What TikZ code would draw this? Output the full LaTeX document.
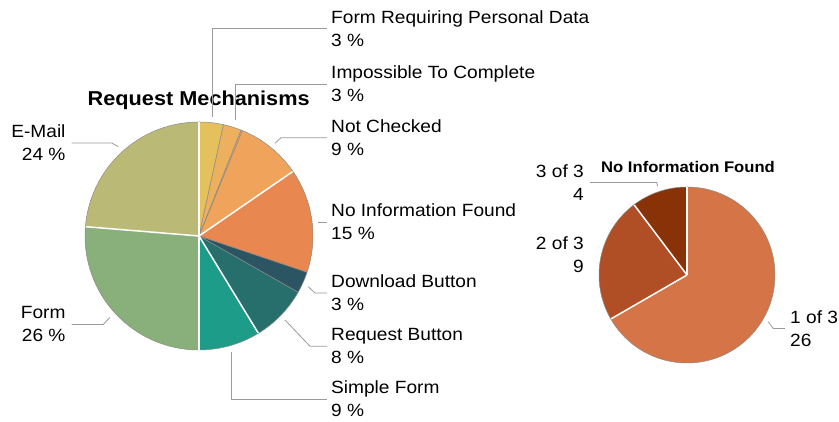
\documentclass[tikz,border=0pt]{standalone}
\usepackage{fontspec}
\setmainfont{Liberation Sans}[FakeStretch=1.08]
\definecolor{cFRPD}{HTML}{E5C15E}
\definecolor{cITC}{HTML}{EDB05E}
\definecolor{cNC}{HTML}{F0A35B}
\definecolor{cNIF}{HTML}{E8874F}
\definecolor{cDB}{HTML}{2C5563}
\definecolor{cRB}{HTML}{266F6C}
\definecolor{cSF}{HTML}{1C9C89}
\definecolor{cFO}{HTML}{89AF7B}
\definecolor{cEM}{HTML}{BBB976}
\definecolor{cR1}{HTML}{D57447}
\definecolor{cR2}{HTML}{B04F26}
\definecolor{cR3}{HTML}{893107}
\definecolor{rim}{HTML}{8C8C84}
\definecolor{leader}{HTML}{9A9A9A}
\tikzset{
  lbl/.style={inner ysep=0pt, inner xsep=4pt, align=left, font=\fontsize{17.7}{23}\selectfont},
  lblr/.style={inner ysep=0pt, inner xsep=6pt, align=right, font=\fontsize{17.7}{23}\selectfont},
  leadline/.style={draw=leader, line width=0.8pt},
  sep/.style={draw=white, line width=1.5pt},
  slice/.style={draw=rim, line width=0.5pt, line join=round}
}
\newcommand{\pieslice}[5]{% center, radius, t1, t2, color
  \filldraw[slice, fill=#5] (#1) -- ++({90-#3}:#2) arc[start angle={90-#3}, end angle={90-#4}, radius=#2] -- cycle;}
\begin{document}
\begin{tikzpicture}[x=1pt,y=1pt]
\useasboundingbox (0,0) rectangle (839,422);
% ---------- left pie ----------
\coordinate (cL) at (199,186);
\pieslice{cL}{114}{0}{12.4}{cFRPD}
\pieslice{cL}{114}{12.4}{21.7}{cITC}
\pieslice{cL}{114}{21.7}{55.5}{cNC}
\pieslice{cL}{114}{55.5}{108.6}{cNIF}
\pieslice{cL}{114}{108.6}{119.6}{cDB}
\pieslice{cL}{114}{119.6}{148.6}{cRB}
\pieslice{cL}{114}{148.6}{180}{cSF}
\pieslice{cL}{114}{180}{274.7}{cFO}
\pieslice{cL}{114}{274.7}{360}{cEM}
\draw[draw=rim, line width=0.5pt] (cL) -- ++({90-22.4}:114);
\foreach \t in {0,55.5,148.6,180,274.7}{\draw[sep] (cL) -- ++({90-\t}:113.6);}
% ---------- right pie ----------
\coordinate (cR) at (687,147);
\pieslice{cR}{88}{0}{240}{cR1}
\pieslice{cR}{88}{240}{323}{cR2}
\pieslice{cR}{88}{323}{360}{cR3}
\foreach \t in {0,240,323}{\draw[sep] (cR) -- ++({90-\t}:87.6);}
% ---------- titles ----------
\node[anchor=base west, inner sep=0pt, font=\fontsize{20.1}{24}\selectfont\bfseries] (tL) at (87.5,316) {Request Mechanisms};
\node[anchor=base west, inner sep=0pt, font=\fontsize{15.4}{18}\selectfont\bfseries] (tR) at (601,249.3) {No Information Found};
% ---------- labels left pie ----------
\node[lbl, anchor=west] (lFRPD) at (327,393.5) {Form Requiring Personal Data\\3 \%};
\node[lbl, anchor=west] (lITC) at (327,338) {Impossible To Complete\\3 \%};
\node[lbl, anchor=west] (lNC) at (327,284.2) {Not Checked\\9 \%};
\node[lbl, anchor=west] (lNIF) at (327,200) {No Information Found\\15 \%};
\node[lbl, anchor=west] (lDB) at (327,129) {Download Button\\3 \%};
\node[lbl, anchor=west] (lRB) at (327,75.7) {Request Button\\8 \%};
\node[lbl, anchor=west] (lSF) at (327,23) {Simple Form\\9 \%};
\node[lblr, anchor=east] (lEM) at (71.7,279) {E-Mail\\24 \%};
\node[lblr, anchor=east] (lFO) at (71.7,97.5) {Form\\26 \%};
% ---------- labels right pie ----------
\node[lblr, anchor=east] (r3) at (590,239.5) {3 of 3\\4};
\node[lblr, anchor=east] (r2) at (590,167.5) {2 of 3\\9};
\node[lbl, anchor=west, inner xsep=5pt] (r1) at (785,93.4) {1 of 3\\26};
% ---------- leader anchor points ----------
\coordinate (pFRPD) at (212.3,305.3);
\coordinate (pITC) at (235,302);
\coordinate (pNC) at (275,278.7);
\coordinate (eNC) at (281,284.2);
\coordinate (pNIF) at (318,200);
\coordinate (pDB) at (308.3,135.3);
\coordinate (eDB) at (315,129);
\coordinate (pRB) at (285,102);
\coordinate (eRB) at (310,75.7);
\coordinate (pSF) at (231.7,70.3);
\coordinate (pEM) at (118.3,275.3);
\coordinate (eEM) at (111.7,279);
\coordinate (pFO) at (110,104.7);
\coordinate (eFO) at (103.3,97.5);
\coordinate (pR3) at (657.7,236);
\coordinate (eR3) at (656.7,239.5);
\coordinate (pR1) at (768.3,100.3);
\coordinate (eR1) at (773.3,93.4);
% ---------- leaders ----------
\draw[leadline] (pFRPD) |- (lFRPD.west);
\draw[leadline] (pITC) |- (lITC.west);
\draw[leadline] (pNC) -- (eNC) -- (lNC.west);
\draw[leadline] (pNIF) -- (lNIF.west);
\draw[leadline] (pDB) -- (eDB) -- (lDB.west);
\draw[leadline] (pRB) -- (eRB) -- (lRB.west);
\draw[leadline] (pSF) |- (lSF.west);
\draw[leadline] (pEM) -- (eEM) -- (lEM.east);
\draw[leadline] (pFO) -- (eFO) -- (lFO.east);
\draw[leadline] (pR3) -- (eR3) -- (r3.east);
\draw[leadline] (pR1) -- (eR1) -- (r1.west);
\end{tikzpicture}
\end{document}
